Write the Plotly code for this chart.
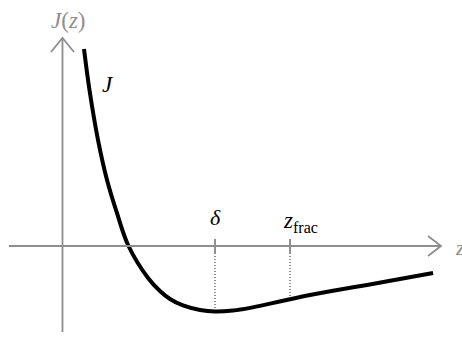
import plotly.graph_objects as go

# Potential curve J(z), sampled points (z in units of delta, J in units of |J_min|)
z_vals = [0.141, 0.177, 0.233, 0.292, 0.357, 0.433, 0.561, 0.639, 0.705, 0.790,
          0.902, 1.000, 1.118, 1.230, 1.361, 1.492, 1.623, 1.774, 1.997, 2.213, 2.430]
J_vals = [3.008, 2.382, 1.618, 1.008, 0.504, 0.000, -0.489, -0.687, -0.809, -0.908,
          -0.977, -1.000, -0.985, -0.945, -0.880, -0.812, -0.748, -0.682, -0.595, -0.504, -0.412]

# Marked positions on the z axis
mark_z = [1.0, 1.492]
mark_J = [-1.0, -0.812]
mark_labels = ["<i>δ</i>", "<i>z</i><sub>frac</sub>"]

AXIS_GREY = "#8e8e8e"
FONT = "Liberation Serif"

# pixel scale of the drawing: 152.5 px per z unit, 65.5 px per J unit
x_range = [-0.4098, 2.6197]
y_range = [-1.4046, 3.7557]
tick_half = 0.107

fig = go.Figure()

# axes
fig.add_shape(type="line", x0=-0.351, x1=2.482, y0=0, y1=0,
              line=dict(color=AXIS_GREY, width=1.8))
fig.add_shape(type="line", x0=0, x1=0, y0=-1.313, y1=3.176,
              line=dict(color=AXIS_GREY, width=1.8))
# open arrow heads
fig.add_shape(type="path", xsizemode="pixel", ysizemode="pixel",
              xanchor=2.482, yanchor=0, path="M -13,10 L 0,0 L -13,-10",
              line=dict(color=AXIS_GREY, width=1.8))
fig.add_shape(type="path", xsizemode="pixel", ysizemode="pixel",
              xanchor=0, yanchor=3.176, path="M -11.5,-14 L 0,0 L 11.5,-14",
              line=dict(color=AXIS_GREY, width=1.8))

# dotted drop lines and small ticks at the marked positions
for zm, jm in zip(mark_z, mark_J):
    fig.add_trace(go.Scatter(x=[zm, zm], y=[-tick_half, jm], mode="lines",
                             line=dict(color="#222222", width=1, dash="1px,2px"),
                             hoverinfo="skip", showlegend=False))
    fig.add_trace(go.Scatter(x=[zm, zm], y=[tick_half, -tick_half], mode="lines",
                             line=dict(color="#222222", width=1),
                             hoverinfo="skip", showlegend=False))

# the potential curve
fig.add_trace(go.Scatter(x=z_vals, y=J_vals, mode="lines",
                         line=dict(color="black", width=4, shape="spline", smoothing=1.0),
                         hoverinfo="skip", showlegend=False))

# labels
fig.add_annotation(x=mark_z[0], y=0.43, text=mark_labels[0], showarrow=False,
                   font=dict(family=FONT, size=22, color="black"))
fig.add_annotation(x=1.43, y=0.37, text=mark_labels[1], showarrow=False, xanchor="left",
                   font=dict(family=FONT, size=23, color="black"))
fig.add_annotation(x=0.298, y=2.46, text="<i>J</i>", showarrow=False,
                   font=dict(family=FONT, size=23, color="black"))
fig.add_annotation(x=0.04, y=3.45, text="<i>J</i>(<i>z</i>)", showarrow=False,
                   font=dict(family=FONT, size=23, color=AXIS_GREY))
fig.add_annotation(x=2.56, y=-0.03, text="<i>z</i>", showarrow=False, xanchor="left",
                   font=dict(family=FONT, size=22, color=AXIS_GREY))

fig.update_layout(
    width=462, height=338,
    margin=dict(l=0, r=0, t=0, b=0),
    paper_bgcolor="white", plot_bgcolor="white",
    xaxis=dict(range=x_range, visible=False, fixedrange=True),
    yaxis=dict(range=y_range, visible=False, fixedrange=True),
)

fig.write_html("out.html")
